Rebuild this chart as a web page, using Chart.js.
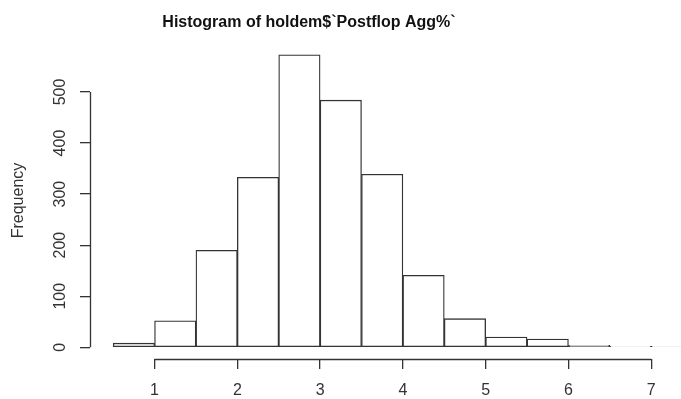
<!DOCTYPE html>
<html>
<head>
<meta charset="utf-8">
<script src="https://cdn.jsdelivr.net/npm/chart.js@4/dist/chart.umd.min.js"></script>
<style>
  html, body { margin: 0; padding: 0; background: #fff; overflow: hidden; }
  #wrap { width: 681px; height: 399px; }
</style>
</head>
<body>
<div id="wrap"><canvas id="hist"></canvas></div>
<script>
// histogram bins (bin centres, width 0.5) and counts
const binCenters = [0.75, 1.25, 1.75, 2.25, 2.75, 3.25, 3.75, 4.25, 4.75, 5.25, 5.75, 6.25, 6.75, 7.25];
const counts = [8, 52, 190, 333, 573, 484, 339, 141, 56, 20, 16, 4, 2, 2];
const xTicks = [1, 2, 3, 4, 5, 6, 7];
const yTicks = [0, 100, 200, 300, 400, 500];
const mainTitle = "Histogram of holdem$`Postflop Agg%`";
const yTitle = "Frequency";

const ink = '#333';
const font = 'Liberation Sans, Arial, sans-serif';

// R-style detached axes: lines only from first to last tick, rotated y labels
const rAxes = {
  id: 'rAxes',
  afterDraw(chart) {
    const ctx = chart.ctx;
    const x = chart.scales.x, y = chart.scales.y;
    ctx.save();
    ctx.strokeStyle = ink;
    ctx.lineWidth = 1.3;
    ctx.beginPath();
    const yx = Math.round(y.right) + 0.5;
    ctx.moveTo(yx, y.getPixelForValue(yTicks[0]));
    ctx.lineTo(yx, y.getPixelForValue(yTicks[yTicks.length - 1]));
    const xy = Math.round(x.top) + 0.5;
    ctx.moveTo(x.getPixelForValue(xTicks[0]), xy);
    ctx.lineTo(x.getPixelForValue(xTicks[xTicks.length - 1]), xy);
    ctx.stroke();

    ctx.fillStyle = '#333';
    ctx.font = '16px ' + font;
    ctx.textAlign = 'center';
    ctx.textBaseline = 'middle';
    yTicks.forEach(v => {
      ctx.save();
      ctx.translate(61, y.getPixelForValue(v));
      ctx.rotate(-Math.PI / 2);
      ctx.fillText(String(v), 0, 0);
      ctx.restore();
    });

    ctx.fillStyle = '#111';
    ctx.font = 'bold 16px ' + font;
    ctx.fillText(mainTitle, 309, 23);
    ctx.restore();
  }
};

new Chart(document.getElementById('hist'), {
  type: 'bar',
  data: {
    datasets: [{
      data: binCenters.map((c, i) => ({ x: c, y: counts[i] })),
      backgroundColor: '#fff',
      borderColor: ink,
      borderWidth: 1.3,
      barPercentage: 1,
      categoryPercentage: 1,
      borderSkipped: false
    }]
  },
  options: {
    responsive: true,
    maintainAspectRatio: false,
    animation: false,
    layout: { padding: { top: 42, left: 0, right: 0, bottom: 0 } },
    plugins: { legend: { display: false }, tooltip: { enabled: false } },
    scales: {
      x: {
        type: 'linear',
        min: 0.22,
        max: 7.36,
        offset: false,
        afterBuildTicks: s => { s.ticks = xTicks.map(v => ({ value: v })); },
        afterFit: s => { s.height = 40; },
        border: { display: false },
        grid: { offset: false, drawOnChartArea: false, drawTicks: true, tickLength: 10, color: ink, lineWidth: 1.3 },
        ticks: { color: '#333', font: { size: 16, family: font }, padding: 12, maxRotation: 0 }
      },
      y: {
        min: -23,
        max: 598,
        afterBuildTicks: s => { s.ticks = yTicks.map(v => ({ value: v })); },
        afterFit: s => { s.width = 90; },
        border: { display: false },
        grid: { drawOnChartArea: false, drawTicks: true, tickLength: 10, color: ink, lineWidth: 1.3 },
        ticks: { display: false },
        title: { display: true, text: yTitle, color: '#333', font: { size: 16, family: font }, padding: { top: 9, bottom: 0 } }
      }
    }
  },
  plugins: [rAxes]
});
</script>
</body>
</html>
